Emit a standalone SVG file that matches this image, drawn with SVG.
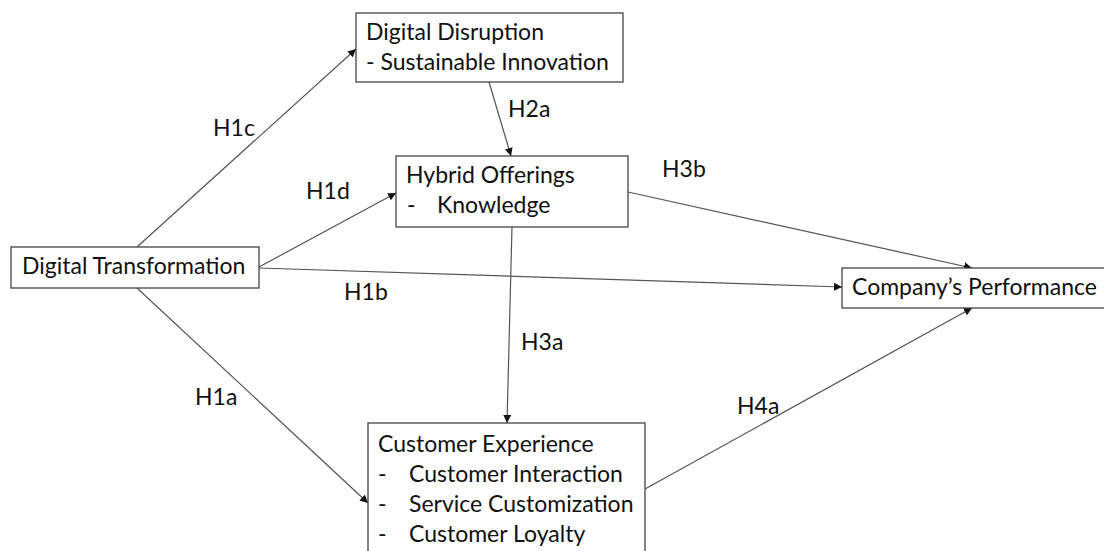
<svg xmlns="http://www.w3.org/2000/svg" width="1104" height="551" viewBox="0 0 1104 551">
<defs>
<style>
.box{fill:#fff;stroke:#444;stroke-width:1.3}
.t{font-family:Lato,"Liberation Sans",sans-serif;font-size:23px;fill:#111}
.edge{stroke:#555;stroke-width:1.2;fill:none;marker-end:url(#ah)}
</style>
<marker id="ah" viewBox="0 0 10 10" refX="10" refY="5" markerWidth="8" markerHeight="8" markerUnits="userSpaceOnUse" orient="auto">
<path d="M0,0 L10,5 L0,10 z" fill="#111"/>
</marker>
</defs>
<rect width="1104" height="551" fill="#fff"/>
<g id="connectors">
<line class="edge" x1="137" y1="247" x2="356" y2="49"/>
<line class="edge" x1="259" y1="267" x2="396" y2="193"/>
<line class="edge" x1="489" y1="82" x2="511" y2="156"/>
<line class="edge" x1="628" y1="192" x2="972" y2="268"/>
<line class="edge" x1="259" y1="268" x2="842" y2="287"/>
<line class="edge" x1="512" y1="227" x2="507" y2="423"/>
<line class="edge" x1="137" y1="288" x2="368" y2="503"/>
<line class="edge" x1="645" y1="489" x2="972" y2="308"/>
</g>
<g id="labels">
<text class="t" x="213" y="136">H1c</text>
<text class="t" x="306" y="199">H1d</text>
<text class="t" x="508" y="117">H2a</text>
<text class="t" x="662" y="177">H3b</text>
<text class="t" x="344" y="300">H1b</text>
<text class="t" x="521" y="350">H3a</text>
<text class="t" x="195" y="405">H1a</text>
<text class="t" x="737" y="414">H4a</text>
</g>
<g id="digital-disruption">
<rect class="box" x="356" y="13" width="267" height="69"/>
<text class="t" x="366" y="40">Digital Disruption</text>
<text class="t" x="366" y="70">- Sustainable Innovation</text>
</g>
<g id="hybrid-offerings">
<rect class="box" x="396" y="156" width="232" height="71"/>
<text class="t" x="406" y="183">Hybrid Offerings</text>
<text class="t" x="407" y="213">-</text>
<text class="t" x="437" y="213">Knowledge</text>
</g>
<g id="digital-transformation">
<rect class="box" x="11" y="247" width="248" height="41"/>
<text class="t" x="22" y="274">Digital Transformation</text>
</g>
<g id="company-performance">
<rect class="box" x="842" y="268" width="270" height="40"/>
<text class="t" x="852" y="295">Company’s Performance</text>
</g>
<g id="customer-experience">
<rect class="box" x="368" y="423" width="277" height="140"/>
<text class="t" x="378" y="452">Customer Experience</text>
<text class="t" x="378" y="482">-</text>
<text class="t" x="409" y="482">Customer Interaction</text>
<text class="t" x="378" y="512">-</text>
<text class="t" x="409" y="512">Service Customization</text>
<text class="t" x="378" y="542">-</text>
<text class="t" x="409" y="542">Customer Loyalty</text>
</g>
</svg>
